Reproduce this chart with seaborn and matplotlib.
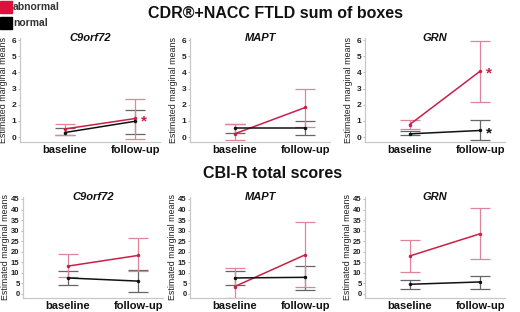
import numpy as np
import pandas as pd
import matplotlib
matplotlib.use("Agg")
import matplotlib.pyplot as plt
import seaborn as sns

# values (means, lower / upper CI)
genes = ["C9orf72", "MAPT", "GRN"]
visits = ["baseline", "follow-up"]
groups = ["abnormal", "normal"]

cdr_abn_mean = [[0.50, 1.15], [0.20, 1.83], [0.77, 4.08]]
cdr_abn_lo = [[0.10, -0.10], [-0.20, 0.65], [0.47, 2.20]]
cdr_abn_hi = [[0.80, 2.37], [0.80, 2.98], [1.07, 5.95]]
cdr_nor_mean = [[0.28, 0.98], [0.55, 0.55], [0.20, 0.41]]
cdr_nor_lo = [[0.10, 0.20], [0.27, 0.10], [0.10, -0.20]]
cdr_nor_hi = [[0.55, 1.70], [0.80, 1.00], [0.35, 1.03]]

cbi_abn_mean = [[13.1, 18.2], [3.4, 18.5], [17.9, 28.5]]
cbi_abn_lo = [[7.8, 10.7], [-2.0, 3.0], [10.2, 16.6]]
cbi_abn_hi = [[18.7, 26.6], [12.3, 34.0], [25.7, 40.5]]
cbi_nor_mean = [[7.5, 6.0], [7.5, 7.8], [4.5, 5.6]]
cbi_nor_lo = [[4.2, 1.0], [4.0, 2.0], [2.2, 2.2]]
cbi_nor_hi = [[11.0, 11.1], [10.8, 13.4], [6.4, 8.6]]

# significance stars at follow-up: (row, gene index, group)
stars = [(0, 0, "abnormal"), (0, 2, "abnormal"), (0, 2, "normal")]

titles = ["CDR\u00ae+NACC FTLD sum of boxes", "CBI-R total scores"]
yticks = [list(range(0, 7)), list(range(0, 50, 5))]
ylims = [(-0.3, 6.12), (-2.0, 46.0)]

red = "#cc1f48"
red_err = "#e0849a"
blk = "#111111"
blk_err = "#666666"

sns.set_style("white")
plt.rcParams["font.family"] = ["Liberation Sans", "DejaVu Sans"]

W, H = 520, 312
fig = plt.figure(figsize=(W / 100, H / 100), dpi=100)

lefts = [[20, 190, 365], [23, 190, 365]]
rows = [(0.545, 0.333), (0.045, 0.324)]
tick_fs = [6, 5.5]

data = [
    (cdr_abn_mean, cdr_abn_lo, cdr_abn_hi, cdr_nor_mean, cdr_nor_lo, cdr_nor_hi),
    (cbi_abn_mean, cbi_abn_lo, cbi_abn_hi, cbi_nor_mean, cbi_nor_lo, cbi_nor_hi),
]

for r, (bottom, height) in enumerate(rows):
    am, alo, ahi, nm, nlo, nhi = data[r]
    for g, gene in enumerate(genes):
        ax = fig.add_axes([lefts[r][g] / W, bottom, 140 / W, height])
        recs = []
        for v in range(2):
            recs.append({"x": v, "group": "abnormal", "mean": am[g][v], "lo": alo[g][v], "hi": ahi[g][v]})
            recs.append({"x": v, "group": "normal", "mean": nm[g][v], "lo": nlo[g][v], "hi": nhi[g][v]})
        df = pd.DataFrame(recs)

        for grp, ecol in [("normal", blk_err), ("abnormal", red_err)]:
            sub = df[df.group == grp]
            ax.errorbar(sub.x, sub["mean"],
                        yerr=[sub["mean"] - sub.lo, sub.hi - sub["mean"]],
                        fmt="none", ecolor=ecol, elinewidth=0.9, capsize=7,
                        capthick=0.9, zorder=2)
        sns.lineplot(data=df, x="x", y="mean", hue="group", hue_order=groups,
                     palette=[red, blk], marker="o", markersize=2.5,
                     markeredgewidth=0, linewidth=1.1, legend=False, ax=ax,
                     zorder=3)

        for (sr, sg, sgrp) in stars:
            if sr == r and sg == g:
                yv = df[(df.group == sgrp) & (df.x == 1)]["mean"].iloc[0]
                ax.annotate("*", (1, yv), xytext=(6, -2), textcoords="offset points",
                            color=red if sgrp == "abnormal" else blk,
                            fontsize=11, fontweight="bold", va="center", ha="center")

        ax.set_xlim(-0.63, 1.35)
        ax.set_ylim(*ylims[r])
        ax.set_xticks([0, 1])
        ax.set_xticklabels(visits, fontsize=8, fontweight="bold", color="#111111")
        ax.set_yticks(yticks[r])
        ax.set_yticklabels([str(t) for t in yticks[r]], fontsize=tick_fs[r], fontweight="bold",
                           color="#222222")
        ax.tick_params(axis="x", length=0, pad=2)
        ax.tick_params(axis="y", length=1.5, width=0.5, pad=1.0, color="#999999", left=True)
        ax.set_xlabel("")
        ax.set_ylabel("Estimated marginal means", fontsize=6.4, color="#222222")
        ax.yaxis.set_label_coords(-(12 if r == 0 else 13) / 140, 0.5)
        for s in ["top", "right"]:
            ax.spines[s].set_visible(False)
        for s in ["left", "bottom"]:
            ax.spines[s].set_color("#c8c8c8")
            ax.spines[s].set_linewidth(0.9)
        ax.text(0.5, 1.0, gene, transform=ax.transAxes, ha="center", va="center",
                fontsize=8, fontweight="bold", fontstyle="italic", color="#111111")

fig.text(0.53, 0.958, titles[0], ha="center", va="center", fontsize=11.5, fontweight="bold",
         color="#111111")
fig.text(0.525, 0.445, titles[1], ha="center", va="center", fontsize=11.5, fontweight="bold",
         color="#111111")

# legend squares at top left
for i, (lab, col) in enumerate(zip(groups, ["#e0103c", "#000000"])):
    y0 = 1 - (0.5 + i * 16) / H
    fig.patches.append(plt.Rectangle((0.0, y0 - 12 / H), 12 / W, 12 / H,
                                     transform=fig.transFigure, color=col, figure=fig))
    fig.text(13 / W, y0 - 6 / H, lab, ha="left", va="center", fontsize=7.5,
             fontweight="bold", color="#333333")

fig.savefig("out.png", dpi=100)
